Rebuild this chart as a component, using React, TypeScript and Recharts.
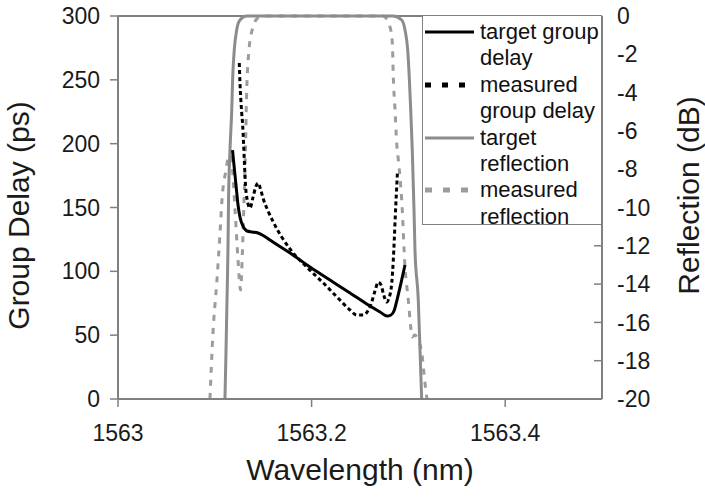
import React from "react";
import { LineChart, Line, XAxis, YAxis, ReferenceLine, Legend, Label } from "recharts";

// wavelength (nm) -> value pairs
const targetGroupDelay: [number, number][] = [
  [1563.1183, 195.0], [1563.1198, 183.3], [1563.1219, 167.6], [1563.124, 152.0],
  [1563.126, 142.6], [1563.1291, 135.5], [1563.1333, 131.6], [1563.1384, 130.8],
  [1563.1446, 130.0], [1563.1508, 127.7], [1563.157, 124.5], [1563.1777, 114.4],
  [1563.1983, 103.4], [1563.219, 93.2], [1563.2397, 83.0], [1563.2603, 72.8],
  [1563.2707, 68.1], [1563.2779, 65.0], [1563.282, 65.8], [1563.2851, 68.9],
  [1563.2882, 77.5], [1563.2924, 90.9], [1563.2965, 105.0],
];

const measuredGroupDelay: [number, number][] = [
  [1563.1253, 263.2], [1563.126, 247.5], [1563.1268, 235.8], [1563.1278, 224.0],
  [1563.1288, 214.6], [1563.1297, 200.5], [1563.1307, 183.3], [1563.1317, 167.6],
  [1563.1333, 156.7], [1563.1364, 149.6], [1563.1395, 158.2], [1563.1426, 166.8],
  [1563.1449, 169.2], [1563.1472, 164.5], [1563.1501, 156.7], [1563.155, 147.3],
  [1563.1604, 138.6], [1563.1777, 117.5], [1563.1949, 103.4], [1563.2121, 90.9],
  [1563.2293, 77.5], [1563.2397, 69.7], [1563.2466, 65.8], [1563.2534, 65.8],
  [1563.2586, 69.7], [1563.2621, 76.0], [1563.2655, 84.6], [1563.2689, 91.6],
  [1563.2717, 89.3], [1563.2748, 80.7], [1563.2776, 76.0], [1563.28, 79.1],
  [1563.2828, 90.9], [1563.2844, 108.9], [1563.2854, 124.5], [1563.2865, 144.1],
  [1563.2875, 159.8], [1563.2887, 177.8],
];

const targetReflection: [number, number][] = [
  [1563.1105, -20], [1563.1116, -17.44], [1563.1126, -14.83], [1563.1136, -12.22],
  [1563.1142, -9.61], [1563.1157, -7.0], [1563.1175, -4.91], [1563.1185, -3.19],
  [1563.1201, -1.78], [1563.1226, -0.73], [1563.126, -0.21], [1563.133, 0],
  [1563.1415, 0], [1563.2841, 0], [1563.2931, -0.21], [1563.2965, -0.73],
  [1563.2993, -1.78], [1563.3009, -3.19], [1563.3024, -4.91], [1563.304, -7.0],
  [1563.3058, -10.13], [1563.3068, -12.22], [1563.3102, -14.83], [1563.312, -17.44],
  [1563.3137, -20],
];

const measuredReflection: [number, number][] = [
  [1563.095, -20], [1563.0981, -16.55], [1563.102, -13.94], [1563.1054, -11.33],
  [1563.1074, -9.61], [1563.1116, -8.04], [1563.1147, -7.26], [1563.1178, -7.78],
  [1563.1209, -10.13], [1563.124, -12.74], [1563.1266, -14.31], [1563.1286, -12.22],
  [1563.1302, -9.61], [1563.1317, -7.0], [1563.1327, -4.39], [1563.1353, -1.78],
  [1563.1395, -0.57], [1563.1446, -0.1], [1563.1519, 0], [1563.2738, 0],
  [1563.281, -0.57], [1563.2834, -1.41], [1563.2844, -3.19], [1563.2862, -4.91],
  [1563.2879, -6.63], [1563.2896, -7.52], [1563.2913, -8.41], [1563.2931, -9.61],
  [1563.2965, -13.11], [1563.2999, -14.83], [1563.3024, -16.24], [1563.3037, -16.76],
  [1563.3068, -16.66], [1563.3099, -16.92], [1563.3137, -17.55], [1563.3171, -19.16],
  [1563.3192, -20],
];

const wavelengthTicks = [1563, 1563.2, 1563.4];
const delayTicks = [0, 50, 100, 150, 200, 250, 300];
const reflectionTicks = [-20, -18, -16, -14, -12, -10, -8, -6, -4, -2, 0];

const FONT = '"Liberation Sans", Arial, Helvetica, sans-serif';
const AXIS = "#808080";
const GRAY = "#8c8c8c";

const legendItems = [
  { lines: ["target group", "delay"], color: "#000", width: 3, sampleDash: undefined },
  { lines: ["measured", "group delay"], color: "#000", width: 3, sampleDash: "6 11" },
  { lines: ["target", "reflection"], color: GRAY, width: 3, sampleDash: undefined },
  { lines: ["measured", "reflection"], color: "#9c9c9c", width: 3, sampleDash: "7 11" },
];

const toPoints = (pairs: [number, number][]) => pairs.map(([wl, v]) => ({ wl, v }));

const tickStyle = { fill: "#1a1a1a", fontSize: 23, fontFamily: FONT };

const LegendBox = () => (
  <div
    style={{
      width: 180,
      height: 210,
      boxSizing: "border-box",
      border: `1.5px solid ${AXIS}`,
      background: "#fff",
      fontFamily: FONT,
      fontSize: 22,
      lineHeight: "26.4px",
      color: "#111",
      paddingTop: 3,
      textAlign: "left",
    }}
  >
    {legendItems.map((item) => (
      <div key={item.lines.join(" ")} style={{ display: "flex" }}>
        <svg width={57} height={26.4} style={{ flex: "none" }}>
          <line
            x1={2}
            x2={51}
            y1={13}
            y2={13}
            stroke={item.color}
            strokeWidth={item.sampleDash ? 5 : item.width}
            strokeDasharray={item.sampleDash}
          />
        </svg>
        <div>
          {item.lines.map((l) => (
            <div key={l}>{l}</div>
          ))}
        </div>
      </div>
    ))}
  </div>
);

const yTitle = (text: string, dx: number, dy: number) => (props: any) => {
  const vb = props.viewBox;
  const x = vb.x + dx;
  const y = vb.y + vb.height / 2 + dy;
  return (
    <text
      x={x}
      y={y}
      transform={`rotate(-90 ${x} ${y})`}
      textAnchor="middle"
      fontFamily={FONT}
      fontSize={30}
      fill="#1a1a1a"
    >
      {text}
    </text>
  );
};

export default function App() {
  return (
    <div style={{ position: "absolute", left: 0, top: 0 }}>
      <LineChart width={705} height={500} margin={{ top: 16, right: 0, bottom: 0, left: 0 }}>
        <XAxis
          dataKey="wl"
          type="number"
          domain={[1563, 1563.5]}
          ticks={wavelengthTicks}
          interval={0}
          height={101}
          tickSize={8}
          tickMargin={18}
          tick={tickStyle}
          tickFormatter={(v: number) => String(v)}
          axisLine={{ stroke: AXIS, strokeWidth: 2 }}
          tickLine={{ stroke: AXIS, strokeWidth: 1.5 }}
        >
          <Label
            value="Wavelength (nm)"
            position="insideBottom"
            offset={20}
            style={{ fontFamily: FONT, fontSize: 30, fill: "#1a1a1a" }}
          />
        </XAxis>
        <YAxis
          yAxisId="gd"
          type="number"
          domain={[0, 300]}
          ticks={delayTicks}
          interval={0}
          width={118}
          tickSize={8}
          tickMargin={10}
          tick={tickStyle}
          axisLine={{ stroke: AXIS, strokeWidth: 2 }}
          tickLine={{ stroke: AXIS, strokeWidth: 1.5 }}
        >
          <Label content={yTitle("Group Delay (ps)", 29, 8)} />
        </YAxis>
        <YAxis
          yAxisId="refl"
          orientation="right"
          type="number"
          domain={[-20, 0]}
          ticks={reflectionTicks}
          interval={0}
          width={103}
          tickSize={-8}
          tickMargin={23}
          tick={tickStyle}
          axisLine={{ stroke: AXIS, strokeWidth: 2 }}
          tickLine={{ stroke: AXIS, strokeWidth: 1.5 }}
        >
          <Label content={yTitle("Reflection (dB)", 97, -12)} />
        </YAxis>
        <ReferenceLine yAxisId="gd" y={300} stroke={AXIS} strokeWidth={2} />
        <Line
          data={toPoints(measuredReflection)}
          dataKey="v"
          yAxisId="refl"
          type="monotone"
          stroke="#9c9c9c"
          strokeWidth={3}
          strokeDasharray="6 7"
          dot={false}
          isAnimationActive={false}
        />
        <Line
          data={toPoints(targetReflection)}
          dataKey="v"
          yAxisId="refl"
          type="monotone"
          stroke={GRAY}
          strokeWidth={3}
          dot={false}
          isAnimationActive={false}
        />
        <Line
          data={toPoints(measuredGroupDelay)}
          dataKey="v"
          yAxisId="gd"
          type="monotone"
          stroke="#000"
          strokeWidth={3}
          strokeDasharray="4 3"
          dot={false}
          isAnimationActive={false}
        />
        <Line
          data={toPoints(targetGroupDelay)}
          dataKey="v"
          yAxisId="gd"
          type="monotone"
          stroke="#000"
          strokeWidth={3}
          dot={false}
          isAnimationActive={false}
        />
        <Legend
          layout="vertical"
          align="center"
          verticalAlign="middle"
          content={() => <LegendBox />}
          wrapperStyle={{ left: 422, top: 15, width: 180, height: 210 }}
        />
      </LineChart>
    </div>
  );
}
